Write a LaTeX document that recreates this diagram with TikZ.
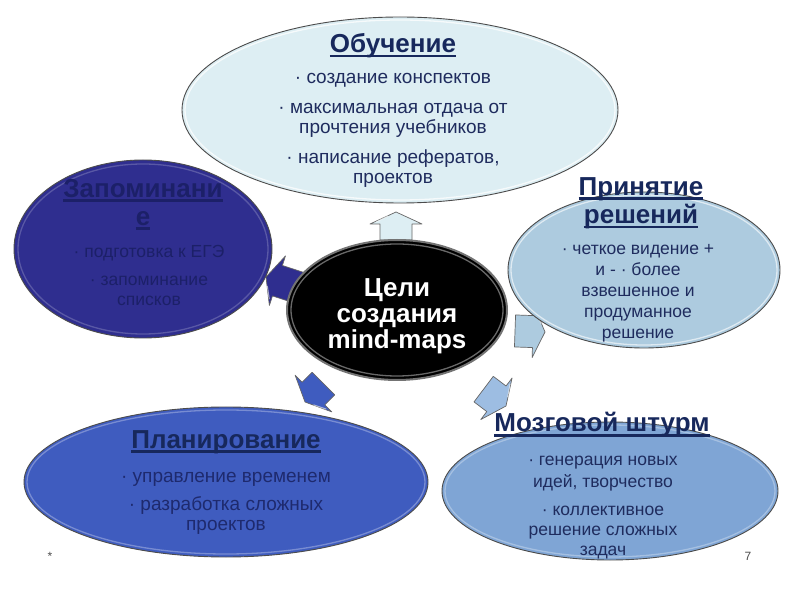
\documentclass[tikz,border=0pt]{standalone}
\usepackage{fontspec}
\setmainfont{Liberation Sans}
\usetikzlibrary{shapes.geometric}
\definecolor{topfill}{HTML}{DDEEF3}
\definecolor{leftfill}{HTML}{2F2E8F}
\definecolor{rightfill}{HTML}{ADCBDF}
\definecolor{blfill}{HTML}{3F5CBF}
\definecolor{brfill}{HTML}{7FA5D5}
\definecolor{brarrow}{HTML}{9DBDE2}
\definecolor{navy}{HTML}{1F2C5E}
\definecolor{navyttl}{HTML}{17285C}
\definecolor{leftnavy}{HTML}{1C2068}
\definecolor{blnavy}{HTML}{1E2A6E}
\newsavebox\ulbx
\newcommand\ulb[1]{\sbox\ulbx{#1}\rlap{\rule[-4.5pt]{\wd\ulbx}{2.2pt}}\usebox\ulbx}
\newcommand\blockarr[5]{%
  \begin{scope}[shift={(#1,#2)},rotate=#3]
    \filldraw[arrowbody,fill=#4] (0,0) -- (-12,26) -- (-12,16) -- (-#5,16) -- (-#5,-16) -- (-12,-16) -- (-12,-26) -- cycle;
    \draw[white,opacity=0.55,line width=1pt] (-4,8) -- (-10,20);
  \end{scope}}
\newcommand\rim[5]{\draw[#4,line width=1.3pt,opacity=#5] (#1.center) ellipse [x radius=#2,y radius=#3];}
\tikzset{
  x=1pt,y=1pt,
  bubble/.style={ellipse,inner sep=0pt,outer sep=0pt,draw=black!70,line width=0.9pt},
  arrowbody/.style={draw=black!60,line width=0.7pt,line join=round},
  ttl/.style={font=\fontsize{26}{27}\selectfont\bfseries,inner sep=0pt,align=center},
  bodytxt/.style={inner sep=0pt,align=center,anchor=north},
  sml/.style={font=\fontsize{17.5}{20}\selectfont},
  big/.style={font=\fontsize{19}{20}\selectfont}
}
\begin{document}
\begin{tikzpicture}
\useasboundingbox[fill=white] (0,0) rectangle (800,600);
% block arrows (behind the ellipses)
\blockarr{396}{388}{90}{topfill}{28}
\blockarr{266}{323}{162}{leftfill}{40}
\blockarr{305}{198}{225}{blfill}{26}
\blockarr{506}{194}{-37}{brarrow}{28}
\blockarr{545}{268}{-2}{rightfill}{30}
% ellipses
\node[bubble,fill=leftfill,minimum width=258,minimum height=178] (mem) at (143,351) {};
\rim{mem}{125}{85}{leftfill!55!white}{0.45}
\node[bubble,fill=topfill,minimum width=436,minimum height=186] (learn) at (400,490) {};
\rim{learn}{215}{90}{white}{0.75}
\node[bubble,fill=rightfill,minimum width=272,minimum height=156] (dec) at (644,330) {};
\rim{dec}{133}{75}{white}{0.6}
\node[bubble,fill=blfill,minimum width=404,minimum height=150] (plan) at (226,118) {};
\rim{plan}{199}{72}{blfill!50!white}{0.6}
\node[bubble,fill=brfill,minimum width=336,minimum height=138] (brain) at (610,109) {};
\rim{brain}{165}{66}{brfill!50!white}{0.6}
\node[bubble,fill=black,draw=black!55,line width=2pt,minimum width=220,minimum height=140] (goal) at (397,290) {};
\rim{goal}{106}{66}{black!45}{0.75}
% texts
\node[ttl,text=navyttl,anchor=base] (learnT) at (393,547) {\ulb{Обучение}};
\node[bodytxt,big,text=navy] (learnB) at (393,531) {\strut· создание конспектов\\[10pt]· максимальная отдача от\\прочтения учебников\\[10pt]· написание рефератов,\\проектов};
\node[ttl,font=\fontsize{26}{28}\selectfont\bfseries,text=leftnavy,anchor=north] (memT) at (143,422.6) {\strut\ulb{Запоминани}\\\ulb{е}};
\node[bodytxt,sml,text=leftnavy] (memB) at (149,357) {\strut· подготовка к ЕГЭ\\[8pt]· запоминание\\списков};
\node[ttl,text=navyttl,anchor=north] (decT) at (641,423.9) {\strut\ulb{Принятие}\\\ulb{решений}};
\node[bodytxt,font=\fontsize{17.5}{21}\selectfont,text=navy] (decB) at (638,360.7) {\strut· четкое видение +\\и - · более\\взвешенное и\\продуманное\\решение};
\node[bodytxt,font=\fontsize{26}{26}\selectfont\bfseries,text=white] (goalT) at (397,322.2) {\strut Цели\\создания\\mind-maps};
\node[ttl,text=navyttl,anchor=base] (planT) at (226,152) {\ulb{Планирование}};
\node[bodytxt,big,text=blnavy] (planB) at (226,132) {\strut· управление временем\\[8pt]· разработка сложных\\проектов};
\node[ttl,text=navyttl,anchor=base] (brainT) at (602,168) {\ulb{Мозговой штурм}};
\node[bodytxt,sml,text=navy] (brainB) at (603,149) {\strut· генерация новых\\[2pt]идей, творчество\\[8pt]· коллективное\\решение сложных\\задач};
% footer
\node[font=\fontsize{12}{14}\selectfont,text=black!70,anchor=base] (star) at (50,40) {*};
\node[font=\fontsize{12}{14}\selectfont,text=black!70,anchor=base] (pnum) at (748,40) {7};
\end{tikzpicture}
\end{document}
